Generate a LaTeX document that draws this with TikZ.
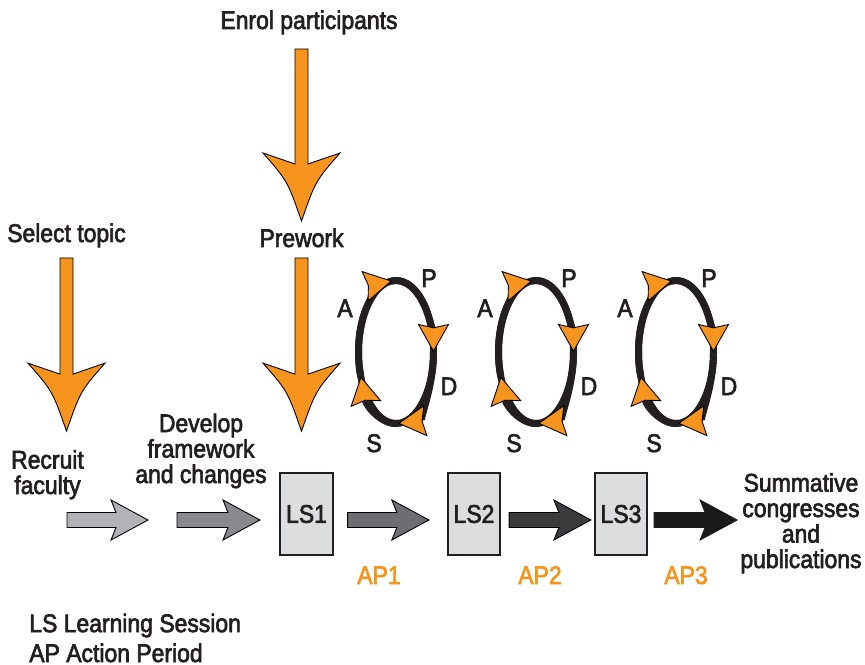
\documentclass[tikz,border=0pt]{standalone}
\usepackage{fontspec}
\setmainfont{Liberation Sans}[FakeStretch=0.9, FakeBold=2.5]
\usetikzlibrary{arrows.meta,calc}

\definecolor{pdsaorange}{HTML}{F7941D}
\definecolor{inkdark}{HTML}{231F20}
\definecolor{boxgrey}{HTML}{DCDDDE}
\definecolor{greyA}{HTML}{B1B3B6}
\definecolor{greyB}{HTML}{87898C}
\definecolor{greyC}{HTML}{6D6E71}
\definecolor{greyD}{HTML}{3A3B3D}
\definecolor{greyE}{HTML}{1C1B1C}

\tikzset{pics/pdsa/.style={code={
    \draw[line width=0.14cm, draw=inkdark] (0,0) ellipse [x radius=37.5, y radius=71.5];
    \foreach \a/\b in {-96/0, 0/87, 87/160, 160/264}
        \draw[ring] (\a:37.5 and 71.5) arc[start angle=\a, end angle=\b, x radius=37.5, y radius=71.5];
    \node[plaintext, anchor=base] (-p) at (33,-65) {P};
    \node[plaintext, anchor=base] (-a) at (-51,-35) {A};
    \node[plaintext, anchor=base] (-d) at (53,43) {D};
    \node[plaintext, anchor=base] (-s) at (-22,100) {S};
}}}

\begin{document}
\begin{tikzpicture}[x=0.02cm, y=-0.02cm,
    plaintext/.style={font=\fontsize{14.5}{14.5}\selectfont, text=inkdark, inner sep=0pt, align=center},
    aplabel/.style={plaintext, text=pdsaorange},
    lsbox/.style={draw=inkdark, fill=boxgrey, line width=1pt, minimum width=1.04cm, minimum height=1.64cm, font=\fontsize{14.5}{14.5}\selectfont, text=inkdark},
    ring/.style={line width=0.14cm, draw=inkdark, -{Stealth[length=16pt, width=18pt, inset=2pt, fill=pdsaorange, color=black, line width=0.5pt]}},
    blockarrow/.style={draw=black, line width=0.5pt, to path={let \p1=(\tikztostart), \p2=(\tikztotarget) in
        ($(\p1)+(0,-7.5)$) -- ($(\x2,\y1)+(-32,-7.5)$) -- ($(\x2,\y1)+(-37,-20)$) -- (\x2,\y1)
        -- ($(\x2,\y1)+(-37,20)$) -- ($(\x2,\y1)+(-32,7.5)$) -- ($(\p1)+(0,7.5)$) -- cycle}},
    bigarrow/.style={draw=black, fill=pdsaorange, line width=0.5pt, to path={let \p1=(\tikztostart), \p2=(\tikztotarget) in
        ($(\p1)+(-6.5,0)$) -- ($(\x1,\y2)+(-6.5,-57)$) -- ($(\x1,\y2)+(-38.5,-68)$)
        .. controls ($(\x1,\y2)+(-14,-40)$) .. (\x1,\y2)
        .. controls ($(\x1,\y2)+(14,-40)$) .. ($(\x1,\y2)+(38.5,-68)$)
        -- ($(\x1,\y2)+(6.5,-57)$) -- ($(\p1)+(6.5,0)$) -- cycle}}
]
    \useasboundingbox (0,0) rectangle (865,665);

    % Top labels
    \node[plaintext, anchor=base] (enrol) at (309,29) {Enrol participants};
    \node[plaintext, anchor=base] (select) at (66.5,242) {Select topic};
    \node[plaintext, anchor=base] (prework) at (301.5,247) {Prework};

    % Learning sessions
    \node[lsbox] (ls1) at (306.5,514) {LS1};
    \node[lsbox] (ls2) at (474,514) {LS2};
    \node[lsbox] (ls3) at (621,514) {LS3};

    % Side labels (base = last line)
    \node[plaintext, anchor=base] (recruit) at (47.5,494) {Recruit\\faculty};
    \node[plaintext, anchor=base] (develop) at (201,483) {Develop\\framework\\and changes};
    \node[plaintext, anchor=base] (summ) at (801,568) {Summative\\congresses\\and\\publications};

    % Action periods
    \node[aplabel, anchor=base] (ap1) at (379,584) {AP1};
    \node[aplabel, anchor=base] (ap2) at (540,584) {AP2};
    \node[aplabel, anchor=base] (ap3) at (686,584) {AP3};

    % Legend
    \node[plaintext, anchor=base west, align=left, font=\fontsize{14.5}{17}\selectfont] (legend) at (29,662) {LS Learning Session\\AP Action Period};

    % Orange arrows
    \draw[bigarrow] ($(prework |- enrol.base)+(0,20)$) to ($(prework.base)+(0,-26)$);
    \draw[bigarrow] ($(prework.base)+(0,11)$) to ($(ls1.north)+(0,-41)$);
    \draw[bigarrow] ($(select.base)+(0,16)$) to ($(select |- ls1.north)+(0,-41)$);

    % Grey arrows
    \coordinate (g1s) at (67,520);
    \coordinate (g1e) at (148,520);
    \coordinate (g2s) at (177,520);
    \coordinate (g2e) at (260,520);
    \draw[blockarrow, fill=greyA] (g1s) to (g1e);
    \draw[blockarrow, fill=greyB] (g2s) to (g2e);
    \draw[blockarrow, fill=greyC] ($(ls1.east)+(14,6)$) to ($(ls2.west)+(-18,6)$);
    \draw[blockarrow, fill=greyD] ($(ls2.east)+(8,6)$) to ($(ls3.west)+(-3,6)$);
    \draw[blockarrow, fill=greyE, draw=greyE] ($(ls3.east)+(6,6)$) to ($(ls3.east -| summ.west)+(-3,6)$);

    % PDSA cycles
    \foreach \cx [count=\i] in {396,536,676}
        \pic (c\i) at (\cx,352) {pdsa};
\end{tikzpicture}
\end{document}
